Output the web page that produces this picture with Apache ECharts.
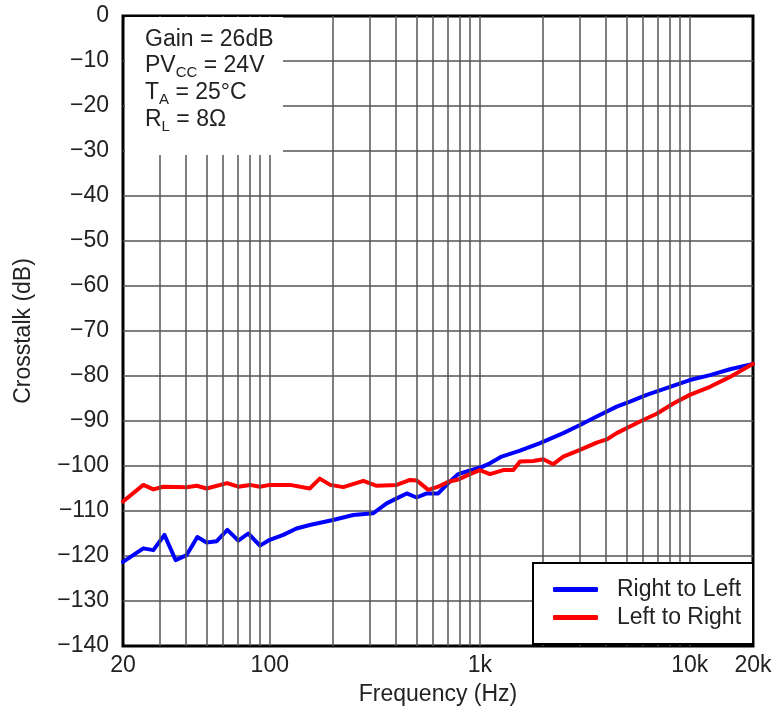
<!DOCTYPE html>
<html>
<head>
<meta charset="utf-8">
<script src="https://cdn.jsdelivr.net/npm/echarts@6/dist/echarts.min.js"></script>
<style>html,body{margin:0;padding:0;background:#fff;}#c{width:775px;height:711px;}</style>
</head>
<body>
<div id="c"></div>
<script>
const freqRL = [20,25,27.9,31.5,35.6,40.2,45.2,50,55.9,62.8,70.8,79,89.8,100,116,134,155,200,250,311,360,402,449,500,559,634,708,790,898,1000,1118,1271,1554,1936,2498,3001,3604,4487,5192,6236,8050,10000,12483,15548,20000];
const rightToLeft = [-121.3,-118.3,-118.7,-115.3,-120.9,-119.8,-115.8,-117,-116.7,-114.2,-116.6,-115,-117.7,-116.4,-115.3,-113.9,-113.1,-112,-110.9,-110.5,-108.3,-107.2,-106.1,-107,-106.1,-106.1,-103.8,-101.8,-101,-100.4,-99.4,-97.9,-96.6,-94.9,-92.7,-90.9,-89,-86.8,-85.7,-84.2,-82.4,-80.9,-79.8,-78.5,-77.3];
const freqLR = [20,25,27.9,31.1,40.2,44.9,50,62.6,70.8,80.5,89.6,100,125,155,173,194,224,279,323,402,465,500,569,634,708,790,898,1000,1118,1294,1444,1554,1798,2006,2240,2498,3001,3604,4022,4487,5794,6956,8348,10000,12483,15548,20000];
const leftToRight = [-107.9,-104.2,-105.2,-104.6,-104.7,-104.4,-105,-103.8,-104.6,-104.2,-104.6,-104.2,-104.2,-105,-102.8,-104.2,-104.7,-103.3,-104.4,-104.2,-103.1,-103.2,-105.3,-104.6,-103.5,-103,-101.8,-100.9,-101.8,-100.9,-100.9,-99,-98.9,-98.5,-99.6,-97.9,-96.4,-94.8,-94.1,-92.7,-90.1,-88.4,-86.1,-84.2,-82.4,-80.2,-77.3];
const minorGridFreqs = [30,40,50,60,70,80,90,200,300,400,500,600,700,800,900,2000,3000,4000,5000,6000,7000,8000,9000];
const seriesNames = ['Right to Left','Left to Right'];
const yMin = -140, yMax = 0, yStep = 10;
const xMin = 20, xMax = 20000;

const FONT = "'Liberation Sans', Arial, sans-serif";
const FS = 23;
const chart = echarts.init(document.getElementById('c'), null, {renderer: 'canvas'});
const gridColor = '#555';
const subRich = {
  n: {fontSize: FS, lineHeight: 30, fontFamily: FONT, fill: '#222'},
  s: {fontSize: 15, lineHeight: 15, verticalAlign: 'bottom', fontFamily: FONT, fill: '#222'}
};

const option = {
  animation: false,
  backgroundColor: '#fff',
  textStyle: {fontFamily: FONT},
  grid: {left: 123, right: 22, top: 16, bottom: 65, show: true, borderColor: '#000', borderWidth: 3, backgroundColor: 'transparent'},
  xAxis: {
    type: 'log', logBase: 10, min: xMin, max: xMax,
    name: 'Frequency (Hz)', nameLocation: 'middle', nameGap: 37,
    nameTextStyle: {fontSize: FS, color: '#222', fontFamily: FONT},
    axisLine: {show: false}, axisTick: {show: false},
    axisLabel: {fontSize: FS, color: '#222', margin: 8, fontFamily: FONT,
      formatter: v => { const r = Math.round(v); return r >= 1000 ? (r/1000) + 'k' : String(r); }},
    splitLine: {show: true, showMinLine: false, showMaxLine: false, lineStyle: {color: gridColor, width: 1.5}},
    minorTick: {show: false}
  },
  yAxis: {
    type: 'value', min: yMin, max: yMax, interval: yStep,
    name: 'Crosstalk (dB)', nameLocation: 'middle', nameGap: 88, nameRotate: 90,
    nameTextStyle: {fontSize: FS, color: '#222', fontFamily: FONT},
    axisLine: {show: false}, axisTick: {show: false},
    axisLabel: {fontSize: FS, color: '#222', margin: 14, fontFamily: FONT,
      formatter: v => v < 0 ? '\u2212' + Math.abs(v) : String(v)},
    splitLine: {show: true, showMinLine: false, showMaxLine: false, lineStyle: {color: gridColor, width: 1.5}}
  },
  legend: {
    data: seriesNames,
    orient: 'vertical', left: 533, top: 563,
    backgroundColor: '#fff', borderColor: '#000', borderWidth: 2, borderRadius: 0,
    padding: [15, 12, 15, 20], itemGap: 5,
    itemWidth: 45, itemHeight: 5, icon: 'roundRect',
    textStyle: {fontSize: FS, color: '#222', fontFamily: FONT, padding: [0, 0, 0, 14]},
    selectedMode: false, z: 20
  },
  graphic: [
    {type: 'rect', z: 10, silent: true, shape: {x: 125, y: 17, width: 158, height: 138}, style: {fill: '#fff'}},
    {type: 'text', z: 11, silent: true, left: 145, top: 28, style: {text: 'Gain = 26dB', font: FS + 'px ' + FONT, fill: '#222'}},
    {type: 'text', z: 11, silent: true, left: 145, top: 54, style: {
      text: '{n|PV}{s|CC}{n| = 24V}', fill: '#222', font: FS + 'px ' + FONT, rich: subRich}},
    {type: 'text', z: 11, silent: true, left: 145, top: 81, style: {
      text: '{n|T}{s|A}{n| = 25\u00B0C}', fill: '#222', font: FS + 'px ' + FONT, rich: subRich}},
    {type: 'text', z: 11, silent: true, left: 145, top: 108, style: {
      text: '{n|R}{s|L}{n| = 8\u03A9}', fill: '#222', font: FS + 'px ' + FONT, rich: subRich}}
  ],
  series: [
    {
      name: 'grid', type: 'line', data: [], z: 1, silent: true,
      markLine: {silent: true, symbol: ['none', 'none'], label: {show: false}, animation: false,
        lineStyle: {type: 'solid', color: gridColor, width: 1.5},
        data: minorGridFreqs.map(f => ({xAxis: f}))}
    },
    {
      name: seriesNames[0], type: 'line', z: 3, showSymbol: false, symbol: 'none',
      data: freqRL.map((f, i) => [f, rightToLeft[i]]),
      lineStyle: {color: '#0000ff', width: 4, cap: 'round', join: 'round'},
      itemStyle: {color: '#0000ff'}
    },
    {
      name: seriesNames[1], type: 'line', z: 3, showSymbol: false, symbol: 'none',
      data: freqLR.map((f, i) => [f, leftToRight[i]]),
      lineStyle: {color: '#ff0000', width: 4, cap: 'round', join: 'round'},
      itemStyle: {color: '#ff0000'}
    }
  ]
};
chart.setOption(option);
</script>
</body>
</html>
